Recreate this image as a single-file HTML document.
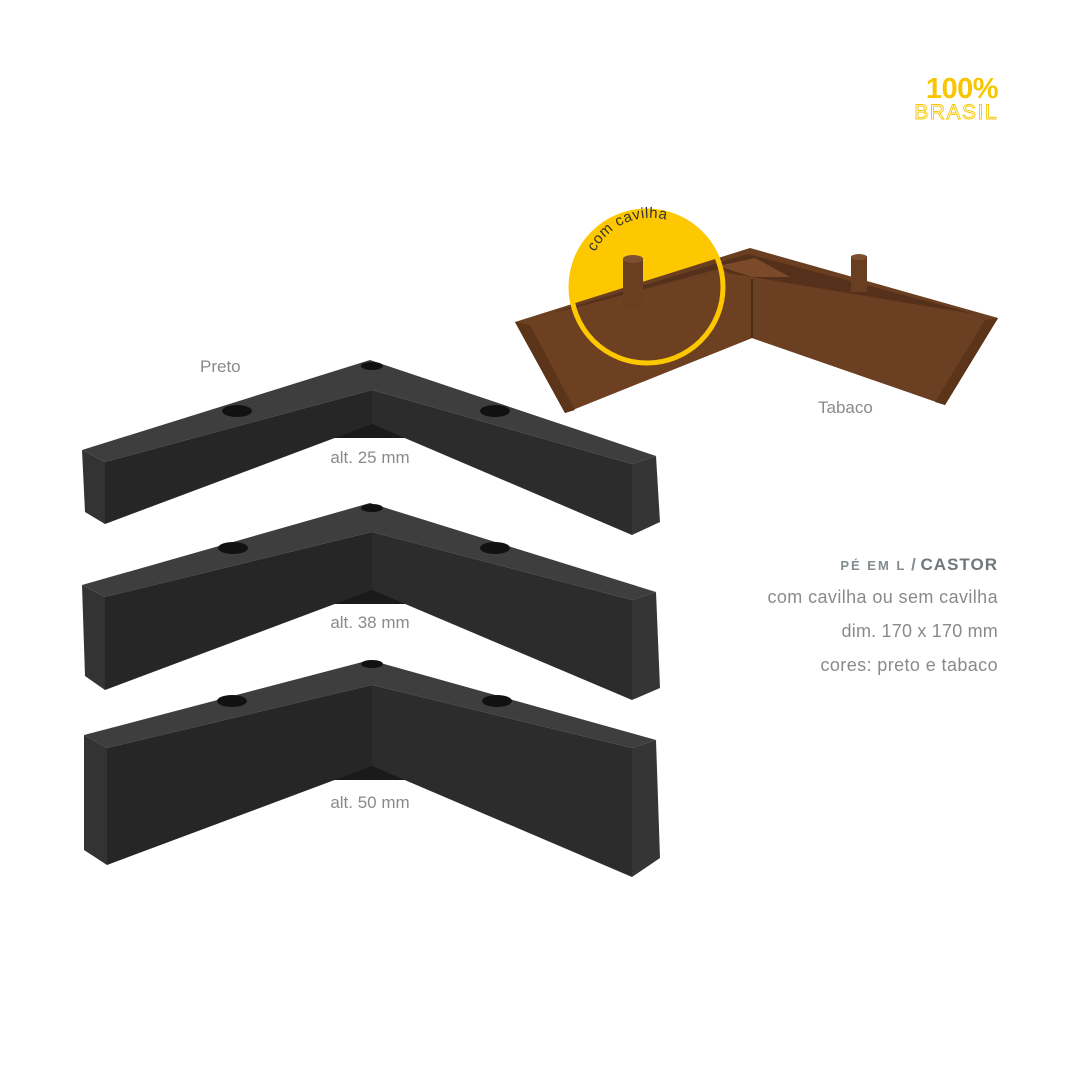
<!DOCTYPE html>
<html><head><meta charset="utf-8"><style>
html,body{margin:0;padding:0;background:#fff;}
svg{display:block;}
</style></head><body>
<svg width="1080" height="1080" viewBox="0 0 1080 1080" xmlns="http://www.w3.org/2000/svg" font-family="Liberation Sans, sans-serif">
<rect width="1080" height="1080" fill="#fff"/>
<!-- logo -->
<text x="998" y="98" text-anchor="end" font-size="29" font-weight="bold" fill="#f7c600" letter-spacing="-0.5">100%</text>
<text x="998" y="119" text-anchor="end" font-size="21" fill="#fff" stroke="#f7c600" stroke-width="0.9" letter-spacing="1.5">BRASIL</text>

<!-- yellow circle -->
<circle cx="647" cy="287" r="76" fill="#fdc800"/>
<!-- brown piece -->
<polygon points="515,322 750,248 998,318 945,405 752,338 565,413" fill="#6a3e20"/>
<polygon points="522,322 748,254 990,318 752,292 722,268" fill="#55301a"/>
<polygon points="515,322 722,272 752,277 752,338 565,413" fill="#6d4022"/>
<polygon points="752,277 998,318 945,405 752,338" fill="#6b3f21"/>
<polygon points="515,322 565,413 575,410 530,325" fill="#5c3419"/>
<polygon points="998,318 945,405 935,402 985,320" fill="#5c3419"/>
<polygon points="718,266 752,277 790,277 755,258" fill="#7a4a2a"/>
<line x1="752" y1="279" x2="752" y2="338" stroke="#4e2c14" stroke-width="2"/>
<rect x="623" y="258" width="20" height="50" fill="#6a3e20"/>
<ellipse cx="633" cy="259" rx="10" ry="4" fill="#7e5030"/>
<rect x="851" y="256" width="16" height="36" fill="#6a3e20"/>
<ellipse cx="859" cy="257" rx="8" ry="3" fill="#7e5030"/>
<circle cx="647" cy="287" r="76" fill="none" stroke="#fdc800" stroke-width="5"/>
<defs><path id="arc" d="M595,252 A62,62 0 0 1 690,232"/></defs>
<text font-size="15" fill="#333" letter-spacing="0.5"><textPath href="#arc">com cavilha</textPath></text>
<text x="818" y="413" font-size="17" fill="#8a8a8a">Tabaco</text>

<!-- black legs -->
<!-- leg 1 -->
<polygon points="330,438 372,422 410,438" fill="#1a1a1a"/>
<polygon points="82,450 370,360 656,456 632,464 372,390 105,462" fill="#3e3e3e"/>
<polygon points="105,462 372,390 372,424 105,524" fill="#262626"/>
<polygon points="372,390 632,464 632,535 372,424" fill="#2c2c2c"/>
<polygon points="82,450 105,462 105,524 85,512" fill="#333"/>
<polygon points="656,456 632,464 632,535 660,522" fill="#353535"/>
<ellipse cx="237" cy="411" rx="15" ry="6" fill="#111"/>
<ellipse cx="495" cy="411" rx="15" ry="6" fill="#111"/>
<ellipse cx="372" cy="366" rx="11" ry="4" fill="#111"/>
<!-- leg 2 -->
<polygon points="330,604 372,588 410,604" fill="#1a1a1a"/>
<polygon points="82,585 370,503 656,592 632,600 372,532 105,597" fill="#3e3e3e"/>
<polygon points="105,597 372,532 372,590 105,690" fill="#262626"/>
<polygon points="372,532 632,600 632,700 372,590" fill="#2c2c2c"/>
<polygon points="82,585 105,597 105,690 85,676" fill="#333"/>
<polygon points="656,592 632,600 632,700 660,688" fill="#353535"/>
<ellipse cx="233" cy="548" rx="15" ry="6" fill="#111"/>
<ellipse cx="495" cy="548" rx="15" ry="6" fill="#111"/>
<ellipse cx="372" cy="508" rx="11" ry="4" fill="#111"/>
<!-- leg 3 -->
<polygon points="330,780 372,764 410,780" fill="#1a1a1a"/>
<polygon points="84,735 370,660 656,740 632,748 372,685 107,748" fill="#3e3e3e"/>
<polygon points="107,748 372,685 372,766 107,865" fill="#262626"/>
<polygon points="372,685 632,748 632,877 372,766" fill="#2c2c2c"/>
<polygon points="84,735 107,748 107,865 84,850" fill="#333"/>
<polygon points="656,740 632,748 632,877 660,858" fill="#353535"/>
<ellipse cx="232" cy="701" rx="15" ry="6" fill="#111"/>
<ellipse cx="497" cy="701" rx="15" ry="6" fill="#111"/>
<ellipse cx="372" cy="664" rx="11" ry="4" fill="#111"/>

<text x="370" y="463" text-anchor="middle" font-size="17" fill="#8a8a8a">alt. 25 mm</text>
<text x="370" y="628" text-anchor="middle" font-size="17" fill="#8a8a8a">alt. 38 mm</text>
<text x="370" y="808" text-anchor="middle" font-size="17" fill="#8a8a8a">alt. 50 mm</text>
<text x="200" y="372" font-size="17" fill="#8a8a8a">Preto</text>

<!-- info -->
<text x="998" y="570" text-anchor="end" font-size="17" font-weight="bold" fill="#858c90"><tspan font-size="13" letter-spacing="2">PÉ EM L</tspan> / <tspan fill="#6f777c" letter-spacing="1">CASTOR</tspan></text>
<text x="998" y="603" text-anchor="end" font-size="18" fill="#8a8a8a" letter-spacing="0.4">com cavilha ou sem cavilha</text>
<text x="998" y="637" text-anchor="end" font-size="18" fill="#8a8a8a" letter-spacing="0.2">dim. 170 x 170 mm</text>
<text x="998" y="671" text-anchor="end" font-size="18" fill="#8a8a8a" letter-spacing="0.4">cores: preto e tabaco</text>
</svg>
</body></html>
